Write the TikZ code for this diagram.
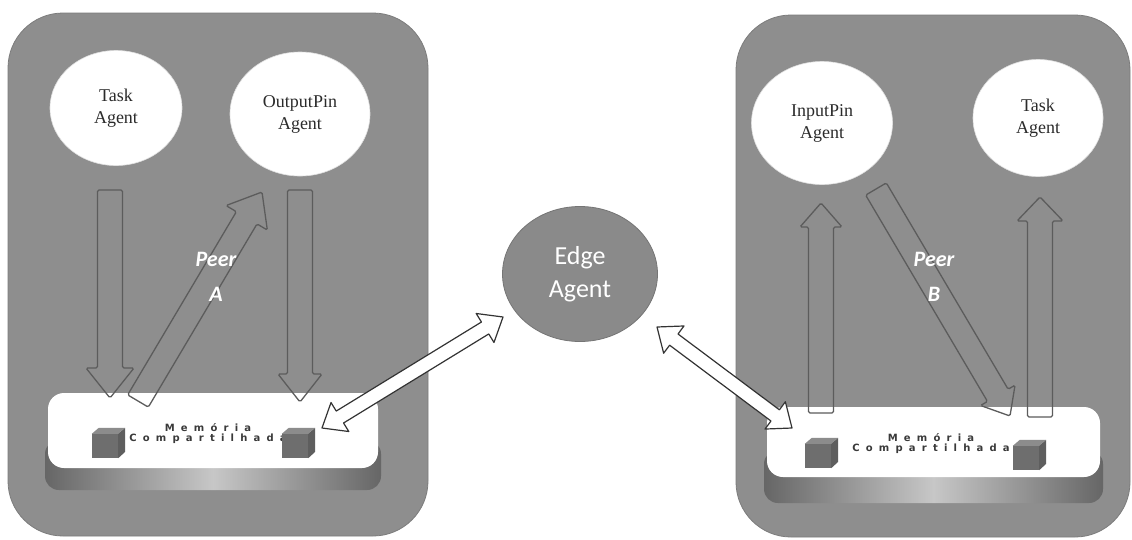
\documentclass[tikz,border=0pt]{standalone}
\usepackage{fontspec}
\setmainfont{Liberation Serif}
\newfontfamily\calfont{Carlito}
\newfontfamily\memfont[LetterSpace=62]{DejaVu Sans}
\usetikzlibrary{calc,shapes.geometric}

\definecolor{panelgray}{HTML}{8E8E8E}
\definecolor{panelrim}{HTML}{7C7C7C}
\definecolor{edgefill}{HTML}{8A8A8A}
\definecolor{flowgray}{HTML}{5C5C5C}
\definecolor{linkline}{HTML}{333333}
\definecolor{agenttext}{HTML}{2B2B2B}
\definecolor{cubefront}{HTML}{6E6E6E}
\definecolor{cubetop}{HTML}{8C8C8C}
\definecolor{cubeside}{HTML}{5E5E5E}
\definecolor{memtext}{HTML}{3A3A3A}

\tikzset{
  panel/.style={rectangle, rounded corners=55pt, fill=panelgray, draw=panelrim, line width=0.8pt, inner sep=0pt},
  agent/.style={ellipse, fill=white, draw=white!88!black, line width=0.6pt, inner sep=0pt,
    align=center, text=agenttext, font=\fontsize{18}{22}\selectfont},
  edgeagent/.style={ellipse, fill=edgefill, draw=edgefill!85!black, line width=0.8pt, inner sep=0pt,
    align=center, text=white, font=\calfont\fontsize{26}{33}\selectfont},
  memtop/.style={rectangle, rounded corners=16pt, fill=white, inner sep=0pt},
  memlabel/.style={align=center, text=memtext, inner sep=0pt, font=\memfont\bfseries\fontsize{10}{10}\selectfont},
  membase/.style={left color=black!60, right color=black!60, middle color=black!22, rounded corners=14pt},
  cube/.style={rectangle, minimum width=26pt, minimum height=24pt, fill=cubefront, inner sep=0pt},
  peerlabel/.style={align=center, text=white, inner sep=0pt,
    font=\calfont\bfseries\itshape\fontsize{22}{35}\selectfont},
  flow/.style={draw=flowgray, line width=1.3pt, rounded corners=1.5pt},
  link/.style={draw=linkline, fill=white, line width=1.2pt, line join=round},
}

% single-headed block arrow: [style]{tail}{tip}{half shaft}{half head}{head length}
\newcommand{\blockarrow}[6][]{%
  \coordinate (bah) at ($(#3)!#6!(#2)$);
  \draw[#1] ($(#2)!#4!90:(#3)$) -- ($(bah)!#4!-90:(#2)$) -- ($(bah)!#5!-90:(#2)$)
    -- (#3) -- ($(bah)!#5!90:(#2)$) -- ($(bah)!#4!90:(#2)$) -- ($(#2)!#4!-90:(#3)$) -- cycle;
}
% double-headed block arrow: [style]{tip A}{tip B}{half shaft}{half head}{head length}
\newcommand{\dblarrow}[6][]{%
  \coordinate (dba) at ($(#2)!#6!(#3)$);
  \coordinate (dbb) at ($(#3)!#6!(#2)$);
  \draw[#1] (#2) -- ($(dba)!#5!90:(#3)$) -- ($(dba)!#4!90:(#3)$) -- ($(dbb)!#4!-90:(#2)$)
    -- ($(dbb)!#5!-90:(#2)$) -- (#3) -- ($(dbb)!#5!90:(#2)$) -- ($(dbb)!#4!90:(#2)$)
    -- ($(dba)!#4!-90:(#3)$) -- ($(dba)!#5!-90:(#3)$) -- cycle;
}
% small 3-D cube on top of a named front face
\newcommand{\cubefaces}[1]{%
  \fill[cubetop] (#1.north west) -- ++(7pt,6pt) -- ++(26pt,0pt) -- (#1.north east) -- cycle;
  \fill[cubeside] (#1.north east) -- ++(7pt,6pt) -- ++(0pt,-24pt) -- (#1.south east) -- cycle;
}

\begin{document}
\begin{tikzpicture}[x=1pt, y=-1pt]
\useasboundingbox (0,0) rectangle (1132,539);
\fill[white] (0,0) rectangle (1132,539);

% peers
\node[panel, minimum width=420pt, minimum height=523pt] (peerA) at (218,274.5) {};
\node[panel, minimum width=394pt, minimum height=522pt] (peerB) at (933,276) {};

% agents
\node[agent, minimum width=132pt, minimum height=115pt] (taskA) at (116,108) {Task\\Agent};
\node[agent, minimum width=140pt, minimum height=124pt] (outpin) at (300,114) {OutputPin\\Agent};
\node[agent, minimum width=141pt, minimum height=123pt] (inpin) at (822,123) {InputPin\\Agent};
\node[agent, minimum width=130pt, minimum height=117pt] (taskB) at (1038,118) {Task\\Agent};
\node[edgeagent, minimum width=155pt, minimum height=135pt] (edge) at (580,274) {Edge\\Agent};

% shared memory of peer A
\shade[membase] (45,440) rectangle (381,490);
\node[memtop, minimum width=330pt, minimum height=75pt] (memA) at (213,430.5) {};
\node[memlabel] (memAtxt) at (208,434) {Memória\\Compartilhada};
\node[cube] (cubeA1) at (105,446) {}; \cubefaces{cubeA1}
\node[cube] (cubeA2) at (295,446) {}; \cubefaces{cubeA2}

% shared memory of peer B
\shade[membase] (764,450) rectangle (1103,503);
\node[memtop, minimum width=333pt, minimum height=70pt] (memB) at (933.5,442) {};
\node[memlabel] (memBtxt) at (931,444) {Memória\\Compartilhada};
\node[cube] (cubeB1) at (818,456) {}; \cubefaces{cubeB1}
\node[cube] (cubeB2) at (1026,458) {}; \cubefaces{cubeB2}

% arrow ends
\coordinate (a1s) at (110,190);  \coordinate (a1e) at (110,398);
\coordinate (a2s) at (138,401);  \coordinate (a2e) at (262,192);
\coordinate (a3s) at (300,190);  \coordinate (a3e) at (300,402);
\coordinate (b1s) at (821,413);  \coordinate (b1e) at (821,203);
\coordinate (b2s) at (876,189);  \coordinate (b2e) at (1010,416);
\coordinate (b3s) at (1040,417); \coordinate (b3e) at (1040,197);
\coordinate (e1s) at (322,428);  \coordinate (e1e) at (503,317);
\coordinate (e2s) at (792,428);  \coordinate (e2e) at (657,327);

% flows inside peer A
\blockarrow[flow]{a1s}{a1e}{12.5pt}{24pt}{30pt}
\blockarrow[flow]{a2s}{a2e}{12pt}{24pt}{30pt}
\blockarrow[flow]{a3s}{a3e}{12.5pt}{22pt}{28pt}

% flows inside peer B
\blockarrow[flow]{b1s}{b1e}{12.5pt}{21pt}{24pt}
\blockarrow[flow]{b2s}{b2e}{12pt}{20pt}{24pt}
\blockarrow[flow]{b3s}{b3e}{12.5pt}{23pt}{24pt}

\node[peerlabel] (peerAlbl) at (216,277) {Peer\\A};
\node[peerlabel] (peerBlbl) at (934,277) {Peer\\B};

% links to the edge agent
\dblarrow[link]{e1s}{e1e}{7pt}{17pt}{21pt}
\dblarrow[link]{e2s}{e2e}{7pt}{17pt}{21pt}
\end{tikzpicture}
\end{document}
